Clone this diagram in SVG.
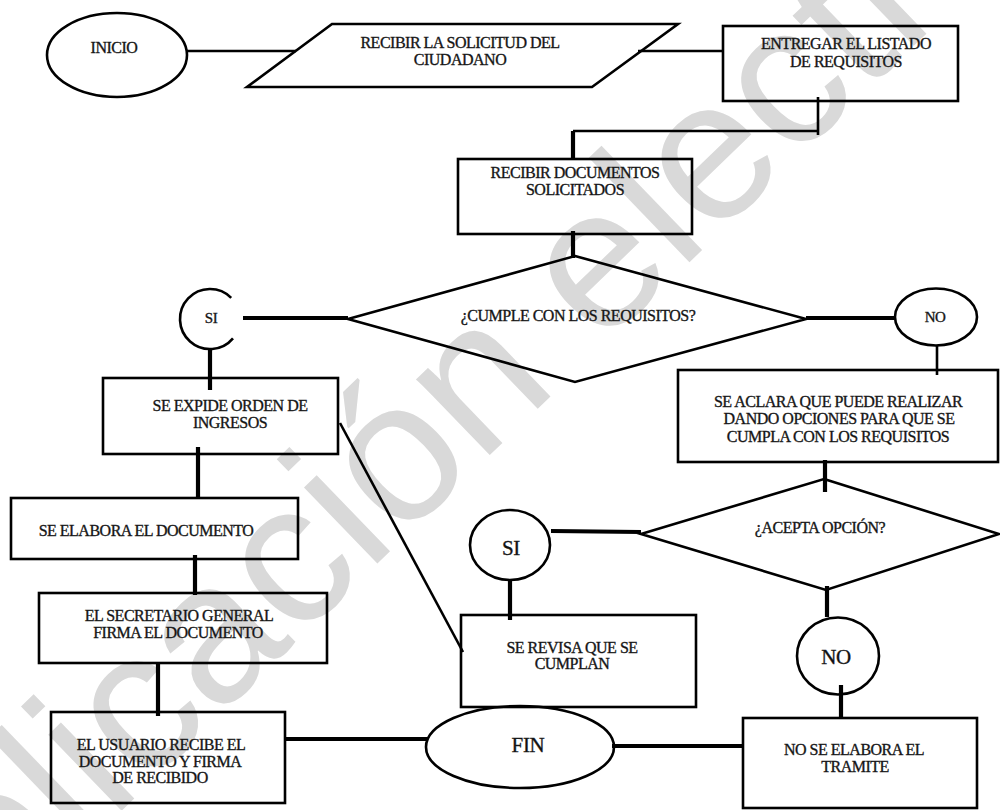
<svg xmlns="http://www.w3.org/2000/svg" width="1000" height="810" viewBox="0 0 1000 810">
<style>
  .shape { fill: none; stroke: #000; stroke-width: 2.6; }
  .c { fill: none; stroke: #000; stroke-width: 2.6; stroke-linecap: butt; }
  .ct { fill: none; stroke: #000; stroke-width: 4.2; stroke-linecap: butt; }
  .t { font-family: "Liberation Serif", "Times New Roman", serif; font-size: 16px; letter-spacing: -0.5px; fill: #111; stroke: #222; stroke-width: 0.35; text-anchor: middle; }
  .s { font-size: 15px; }
  .b { font-size: 21px; letter-spacing: -0.3px; }
  .wm { font-family: "Liberation Sans", Arial, sans-serif; font-size: 200px; fill: #d9d9d9; }
</style>
<rect width="1000" height="810" fill="#fff"/>
<text class="wm" transform="translate(-176,1098) rotate(-44)">Publicación electrónica</text>

<g id="connectors">
  <line class="c" x1="186" y1="51" x2="296" y2="51"/>
  <line class="c" x1="638" y1="51" x2="723" y2="51"/>
  <line class="c" x1="818" y1="97" x2="818" y2="135"/>
  <line class="c" x1="573" y1="131" x2="818" y2="131"/>
  <line class="ct" x1="573" y1="131" x2="573" y2="159"/>
  <line class="ct" x1="573" y1="231" x2="573" y2="258"/>
  <line class="ct" x1="243" y1="318" x2="348" y2="318"/>
  <line class="ct" x1="806" y1="318" x2="894" y2="318"/>
  <line class="ct" x1="210" y1="349" x2="210" y2="390"/>
  <line class="c" x1="937" y1="345" x2="937" y2="375"/>
  <line class="ct" x1="198" y1="447" x2="198" y2="499"/>
  <line class="ct" x1="195" y1="555" x2="195" y2="595"/>
  <line class="ct" x1="158" y1="662" x2="158" y2="716"/>
  <line class="ct" x1="285" y1="739" x2="428" y2="739"/>
  <line class="c" x1="340" y1="423" x2="463" y2="652"/>
  <line class="ct" x1="825" y1="460" x2="825" y2="492"/>
  <line class="ct" x1="551" y1="531" x2="641" y2="532"/>
  <line class="ct" x1="510" y1="580" x2="510" y2="620"/>
  <line class="ct" x1="827" y1="586" x2="827" y2="617"/>
  <line class="ct" x1="841" y1="685" x2="841" y2="719"/>
  <line class="ct" x1="612" y1="746" x2="743" y2="746"/>
</g>

<g id="inicio">
  <ellipse class="shape" cx="117" cy="55" rx="70" ry="42"/>
  <text class="t" x="114" y="53">INICIO</text>
</g>
<g id="recibir-solicitud">
  <polygon class="shape" points="332,24 678,24 592,87 247,87"/>
  <text class="t" x="460" y="48">RECIBIR LA SOLICITUD DEL</text>
  <text class="t" x="460" y="65">CIUDADANO</text>
</g>
<g id="entregar-listado">
  <rect class="shape" x="723" y="26" width="235" height="75"/>
  <text class="t" x="846" y="49">ENTREGAR EL LISTADO</text>
  <text class="t" x="846" y="67">DE REQUISITOS</text>
</g>
<g id="recibir-documentos">
  <rect class="shape" x="458" y="159" width="234" height="75"/>
  <text class="t" x="575" y="178">RECIBIR DOCUMENTOS</text>
  <text class="t" x="575" y="195">SOLICITADOS</text>
</g>
<g id="cumple-requisitos">
  <polygon class="shape" points="575,256 806,319 575,382 348,319"/>
  <text class="t" x="578" y="321">¿CUMPLE CON LOS REQUISITOS?</text>
</g>
<g id="si-1">
  <path class="shape" d="M 231.2,297.8 A 30 30 0 1 0 233,338.3"/>
  <text class="t s" x="211" y="323">SI</text>
</g>
<g id="no-1">
  <ellipse class="shape" cx="936" cy="317" rx="41" ry="28.5"/>
  <text class="t s" x="935" y="322">NO</text>
</g>
<g id="se-expide">
  <rect class="shape" x="103" y="378" width="235" height="76"/>
  <text class="t" x="230" y="411">SE EXPIDE ORDEN DE</text>
  <text class="t" x="230" y="428">INGRESOS</text>
</g>
<g id="se-aclara">
  <rect class="shape" x="678" y="370" width="320" height="92"/>
  <text class="t" x="838" y="407">SE ACLARA QUE PUEDE REALIZAR</text>
  <text class="t" x="839" y="424">DANDO OPCIONES PARA QUE SE</text>
  <text class="t" x="838" y="442">CUMPLA CON LOS REQUISITOS</text>
</g>
<g id="se-elabora">
  <rect class="shape" x="11" y="498" width="287" height="61"/>
  <text class="t" x="146" y="536">SE ELABORA EL DOCUMENTO</text>
</g>
<g id="acepta-opcion">
  <polygon class="shape" points="824,479 999,534 826,590 641,534"/>
  <text class="t" x="820" y="533">¿ACEPTA OPCIÓN?</text>
</g>
<g id="si-2">
  <ellipse class="shape" cx="510" cy="545" rx="40" ry="35"/>
  <text class="t b" x="511" y="555">SI</text>
</g>
<g id="secretario">
  <rect class="shape" x="39" y="593" width="288" height="70"/>
  <text class="t" x="179" y="621">EL SECRETARIO GENERAL</text>
  <text class="t" x="178" y="638">FIRMA EL DOCUMENTO</text>
</g>
<g id="se-revisa">
  <rect class="shape" x="461" y="615" width="235" height="92"/>
  <text class="t" x="572" y="653">SE REVISA QUE SE</text>
  <text class="t" x="572" y="669">CUMPLAN</text>
</g>
<g id="no-2">
  <ellipse class="shape" cx="838" cy="656" rx="41" ry="38.5"/>
  <text class="t b" x="836" y="664">NO</text>
</g>
<g id="usuario">
  <rect class="shape" x="51" y="712" width="234" height="91"/>
  <text class="t" x="161" y="750">EL USUARIO RECIBE EL</text>
  <text class="t" x="160" y="767">DOCUMENTO Y FIRMA</text>
  <text class="t" x="160" y="783">DE RECIBIDO</text>
</g>
<g id="fin">
  <ellipse class="shape" cx="520" cy="747" rx="94" ry="41"/>
  <text class="t b" x="528" y="752">FIN</text>
</g>
<g id="no-se-elabora">
  <rect class="shape" x="743" y="718" width="234" height="90"/>
  <text class="t" x="854" y="755">NO SE ELABORA EL</text>
  <text class="t" x="855" y="772">TRAMITE</text>
</g>
</svg>
